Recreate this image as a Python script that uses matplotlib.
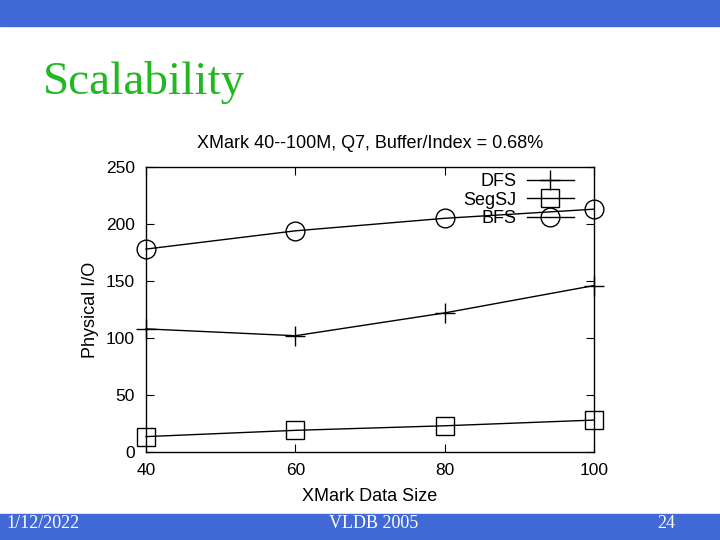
import matplotlib.pyplot as plt
from matplotlib.patches import Rectangle

# data
sizes = [40, 60, 80, 100]
dfs = [108, 102, 122, 146]
segsj = [13.5, 19, 23, 28]
bfs = [178, 194, 205, 213]
yticks = [0, 50, 100, 150, 200, 250]

blue = '#4169d8'
green = '#22b822'

plt.rcParams['font.family'] = ['Liberation Sans', 'DejaVu Sans']

fig = plt.figure(figsize=(7.2, 5.4), dpi=100)

# slide decoration: top bar, footer bar, title
fig.patches.append(Rectangle((0, 1 - 26 / 540), 1, 26 / 540, transform=fig.transFigure,
                             color=blue, zorder=0))
fig.patches.append(Rectangle((0, 0), 1, 26 / 540, transform=fig.transFigure,
                             color=blue, zorder=0))
fig.text(43 / 720, 1 - 82 / 540, 'Scalability', color=green, fontsize=34,
         family='Liberation Serif', va='center', ha='left')
fig.text(6 / 720, 1 - 523 / 540, '1/12/2022', color='white', fontsize=13,
         family='Liberation Serif', va='center', ha='left')
fig.text(374 / 720, 1 - 523 / 540, 'VLDB 2005', color='white', fontsize=13,
         family='Liberation Serif', va='center', ha='center')
fig.text(666 / 720, 1 - 523 / 540, '24', color='white', fontsize=13,
         family='Liberation Serif', va='center', ha='center')

ax = fig.add_axes([146 / 720, 1 - 452 / 540, 448 / 720, 285 / 540])
ax.plot(sizes, dfs, color='black', lw=1, marker='+', ms=14, mew=1,
        clip_on=False, label='DFS')
ax.plot(sizes, segsj, color='black', lw=1, marker='s', ms=13, mew=1,
        mfc='none', clip_on=False, label='SegSJ')
ax.plot(sizes, bfs, color='black', lw=1, marker='o', ms=13.5, mew=1,
        mfc='none', clip_on=False, label='BFS')

ax.set_xlim(40, 100)
ax.set_ylim(0, 250)
ax.set_xticks([40, 60, 80, 100])
ax.set_yticks(yticks)
ax.tick_params(direction='in', top=True, right=True, length=6, labelsize=12.5,
               pad=8)
for s in ax.spines.values():
    s.set_linewidth(1)

ax.set_title('XMark 40--100M, Q7, Buffer/Index = 0.68%', fontsize=13, pad=14)
ax.set_xlabel('XMark Data Size', fontsize=13, labelpad=7)
ax.set_ylabel('Physical I/O', fontsize=13, labelpad=5)

ax.legend(loc='upper right', bbox_to_anchor=(0.969, 1.0), frameon=False,
          markerfirst=False, fontsize=13, handlelength=2.6, labelspacing=0.08,
          borderaxespad=0, borderpad=0.35, handletextpad=0.6)

fig.savefig('out.png', dpi=100)
